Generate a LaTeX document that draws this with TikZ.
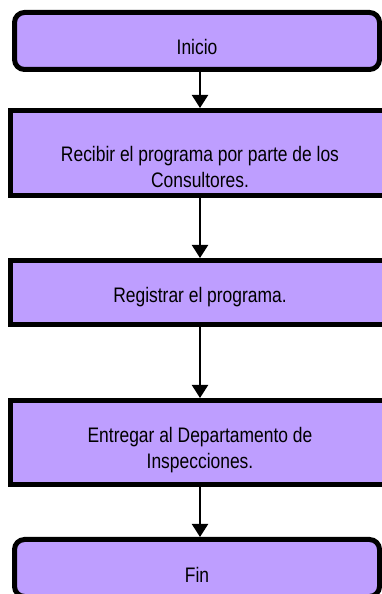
\documentclass[tikz,border=0pt]{standalone}
\usepackage{fontspec}
\setmainfont{Liberation Sans}
\newfontfamily\boxfont[FakeStretch=0.83]{Liberation Sans}
\usetikzlibrary{arrows.meta,positioning}
\definecolor{boxfill}{RGB}{190,158,255}
\tikzset{
  stepbox/.style={draw,fill=boxfill,line width=5pt,minimum width=379pt,align=center,
    font=\boxfont\fontsize{21}{26}\selectfont,text depth=0pt},
  termbox/.style={stepbox,rounded corners=10pt,minimum width=365pt,minimum height=57pt},
  flow/.style={line width=2pt,-{Triangle[width=16pt,length=13pt]}}
}
\begin{document}
\begin{tikzpicture}[x=1pt,y=1pt]
      \useasboundingbox (0,0) rectangle (382,594);
      \clip (0,0) rectangle (382,594);
      % boxes
      \node[termbox,text height=28pt] (ini) at (197,553) {Inicio};
      \node[stepbox,minimum height=85pt,text height=69pt] (recibir) at (200,441) {Recibir el programa por parte de los\\Consultores.};
      \node[stepbox,minimum height=64pt,text height=20pt] (registrar) at (200,301.5) {Registrar el programa.};
      \node[stepbox,minimum height=84pt,text height=52pt] (entregar) at (200,151.5) {Entregar al Departamento de\\Inspecciones.};
      \node[termbox,text height=30pt] (fin) at (197,26) {Fin};
      % arrows
      \draw[flow] (ini.south -| recibir.north) -- (recibir.north);
      \draw[flow] (recibir.south) -- (registrar.north);
      \draw[flow] (registrar.south) -- (entregar.north);
      \draw[flow] (entregar.south) -- (fin.north -| entregar.south);
\end{tikzpicture}
\end{document}
